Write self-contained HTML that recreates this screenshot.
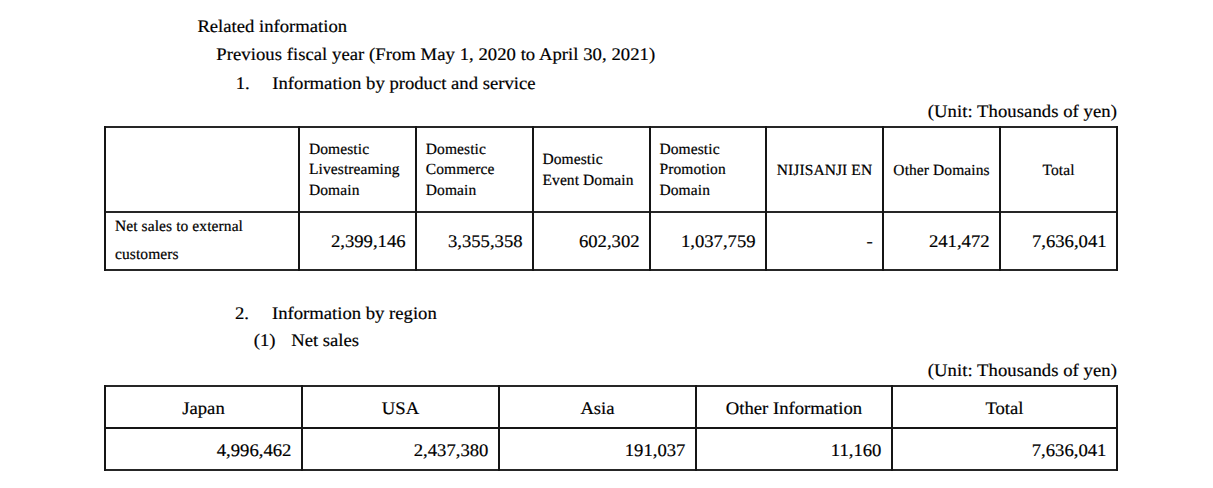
<!DOCTYPE html>
<html><head><meta charset="utf-8"><title>Related information</title>
<style>
html,body{margin:0;padding:0;background:#fff;}
body{width:1213px;height:488px;position:relative;overflow:hidden;font-family:"Liberation Serif",serif;color:#000;}
.t{position:absolute;white-space:nowrap;line-height:1;-webkit-text-stroke:0.2px #000;text-rendering:geometricPrecision;}
.r{text-align:right;}
.c{text-align:center;}
.l{position:absolute;background:#151515;}
.l.h{background:#262626;}
</style></head><body>
<div class="t" style="left:197.40px;top:17.96px;font-size:18.67px;transform-origin:0 15.64px;transform:scaleY(0.950);">Related information</div>
<div class="t" style="left:216.30px;top:46.01px;font-size:18.67px;transform-origin:0 15.64px;transform:scaleY(0.950);letter-spacing:0.045px;">Previous fiscal year (From May 1, 2020 to April 30, 2021)</div>
<div class="t" style="left:235.70px;top:74.86px;font-size:18.67px;transform-origin:0 15.64px;transform:scaleY(0.950);">1.</div>
<div class="t" style="left:272.30px;top:74.86px;font-size:18.67px;transform-origin:0 15.64px;transform:scaleY(0.950);">Information by product and service</div>
<div class="t r" style="left:717.00px;width:400.00px;top:102.86px;font-size:18.67px;transform-origin:0 15.64px;transform:scaleY(0.950);letter-spacing:0.060px;">(Unit: Thousands of yen)</div>
<div class="l h" style="left:104px;top:126px;width:1014px;height:2px"></div>
<div class="l h" style="left:104px;top:211px;width:1014px;height:2px"></div>
<div class="l h" style="left:104px;top:269px;width:1014px;height:2px"></div>
<div class="l" style="left:104px;top:126px;width:2px;height:145px"></div>
<div class="l" style="left:298px;top:126px;width:2px;height:145px"></div>
<div class="l" style="left:415px;top:126px;width:2px;height:145px"></div>
<div class="l" style="left:532px;top:126px;width:2px;height:145px"></div>
<div class="l" style="left:649px;top:126px;width:2px;height:145px"></div>
<div class="l" style="left:765px;top:126px;width:2px;height:145px"></div>
<div class="l" style="left:882px;top:126px;width:2px;height:145px"></div>
<div class="l" style="left:999px;top:126px;width:2px;height:145px"></div>
<div class="l" style="left:1116px;top:126px;width:2px;height:145px"></div>
<div class="t" style="left:309.00px;top:141.62px;font-size:15.50px;transform-origin:0 12.98px;transform:scaleY(1.000);letter-spacing:0.090px;">Domestic</div>
<div class="t" style="left:309.00px;top:162.22px;font-size:15.50px;transform-origin:0 12.98px;transform:scaleY(1.000);letter-spacing:0.090px;">Livestreaming</div>
<div class="t" style="left:309.00px;top:182.92px;font-size:15.50px;transform-origin:0 12.98px;transform:scaleY(1.000);letter-spacing:0.090px;">Domain</div>
<div class="t" style="left:425.80px;top:141.62px;font-size:15.50px;transform-origin:0 12.98px;transform:scaleY(1.000);letter-spacing:0.090px;">Domestic</div>
<div class="t" style="left:425.80px;top:162.22px;font-size:15.50px;transform-origin:0 12.98px;transform:scaleY(1.000);letter-spacing:0.090px;">Commerce</div>
<div class="t" style="left:425.80px;top:182.92px;font-size:15.50px;transform-origin:0 12.98px;transform:scaleY(1.000);letter-spacing:0.090px;">Domain</div>
<div class="t" style="left:542.50px;top:151.72px;font-size:15.50px;transform-origin:0 12.98px;transform:scaleY(1.000);letter-spacing:0.090px;">Domestic</div>
<div class="t" style="left:542.50px;top:172.52px;font-size:15.50px;transform-origin:0 12.98px;transform:scaleY(1.000);letter-spacing:0.090px;">Event Domain</div>
<div class="t" style="left:659.50px;top:141.62px;font-size:15.50px;transform-origin:0 12.98px;transform:scaleY(1.000);letter-spacing:0.090px;">Domestic</div>
<div class="t" style="left:659.50px;top:162.22px;font-size:15.50px;transform-origin:0 12.98px;transform:scaleY(1.000);letter-spacing:0.090px;">Promotion</div>
<div class="t" style="left:659.50px;top:182.92px;font-size:15.50px;transform-origin:0 12.98px;transform:scaleY(1.000);letter-spacing:0.090px;">Domain</div>
<div class="t c" style="left:624.50px;width:400.00px;top:162.72px;font-size:15.50px;transform-origin:0 12.98px;transform:scaleY(1.000);letter-spacing:0.090px;">NIJISANJI EN</div>
<div class="t c" style="left:741.50px;width:400.00px;top:162.72px;font-size:15.50px;transform-origin:0 12.98px;transform:scaleY(1.000);letter-spacing:0.090px;">Other Domains</div>
<div class="t c" style="left:858.50px;width:400.00px;top:162.72px;font-size:15.50px;transform-origin:0 12.98px;transform:scaleY(1.000);letter-spacing:0.090px;">Total</div>
<div class="t" style="left:115.00px;top:219.42px;font-size:15.50px;transform-origin:0 12.98px;transform:scaleY(1.000);letter-spacing:0.090px;">Net sales to external</div>
<div class="t" style="left:115.00px;top:247.12px;font-size:15.50px;transform-origin:0 12.98px;transform:scaleY(1.000);letter-spacing:0.090px;">customers</div>
<div class="t r" style="left:5.60px;width:400.00px;top:233.06px;font-size:18.67px;transform-origin:0 15.64px;transform:scaleY(0.950);">2,399,146</div>
<div class="t r" style="left:122.60px;width:400.00px;top:233.06px;font-size:18.67px;transform-origin:0 15.64px;transform:scaleY(0.950);">3,355,358</div>
<div class="t r" style="left:239.60px;width:400.00px;top:233.06px;font-size:18.67px;transform-origin:0 15.64px;transform:scaleY(0.950);">602,302</div>
<div class="t r" style="left:355.60px;width:400.00px;top:233.06px;font-size:18.67px;transform-origin:0 15.64px;transform:scaleY(0.950);">1,037,759</div>
<div class="t r" style="left:472.60px;width:400.00px;top:233.06px;font-size:18.67px;transform-origin:0 15.64px;transform:scaleY(0.950);">-</div>
<div class="t r" style="left:589.60px;width:400.00px;top:233.06px;font-size:18.67px;transform-origin:0 15.64px;transform:scaleY(0.950);">241,472</div>
<div class="t r" style="left:706.60px;width:400.00px;top:233.06px;font-size:18.67px;transform-origin:0 15.64px;transform:scaleY(0.950);">7,636,041</div>
<div class="t" style="left:234.90px;top:304.86px;font-size:18.67px;transform-origin:0 15.64px;transform:scaleY(0.950);">2.</div>
<div class="t" style="left:272.00px;top:304.86px;font-size:18.67px;transform-origin:0 15.64px;transform:scaleY(0.950);">Information by region</div>
<div class="t" style="left:253.80px;top:332.06px;font-size:18.67px;transform-origin:0 15.64px;transform:scaleY(0.950);">(1)</div>
<div class="t" style="left:291.20px;top:332.06px;font-size:18.67px;transform-origin:0 15.64px;transform:scaleY(0.950);">Net sales</div>
<div class="t r" style="left:717.00px;width:400.00px;top:362.06px;font-size:18.67px;transform-origin:0 15.64px;transform:scaleY(0.950);letter-spacing:0.060px;">(Unit: Thousands of yen)</div>
<div class="l h" style="left:104px;top:385px;width:1014px;height:2px"></div>
<div class="l" style="left:104px;top:427px;width:1014px;height:2px"></div>
<div class="l h" style="left:104px;top:469px;width:1014px;height:2px"></div>
<div class="l" style="left:104px;top:385px;width:2px;height:86px"></div>
<div class="l" style="left:301px;top:385px;width:2px;height:86px"></div>
<div class="l" style="left:498px;top:385px;width:2px;height:86px"></div>
<div class="l" style="left:695px;top:385px;width:2px;height:86px"></div>
<div class="l" style="left:891px;top:385px;width:2px;height:86px"></div>
<div class="l" style="left:1116px;top:385px;width:2px;height:86px"></div>
<div class="t c" style="left:3.50px;width:400.00px;top:399.76px;font-size:18.67px;transform-origin:0 15.64px;transform:scaleY(0.950);">Japan</div>
<div class="t r" style="left:-108.60px;width:400.00px;top:441.66px;font-size:18.67px;transform-origin:0 15.64px;transform:scaleY(0.950);">4,996,462</div>
<div class="t c" style="left:200.50px;width:400.00px;top:399.76px;font-size:18.67px;transform-origin:0 15.64px;transform:scaleY(0.950);">USA</div>
<div class="t r" style="left:88.40px;width:400.00px;top:441.66px;font-size:18.67px;transform-origin:0 15.64px;transform:scaleY(0.950);">2,437,380</div>
<div class="t c" style="left:397.50px;width:400.00px;top:399.76px;font-size:18.67px;transform-origin:0 15.64px;transform:scaleY(0.950);">Asia</div>
<div class="t r" style="left:285.40px;width:400.00px;top:441.66px;font-size:18.67px;transform-origin:0 15.64px;transform:scaleY(0.950);">191,037</div>
<div class="t c" style="left:594.00px;width:400.00px;top:399.76px;font-size:18.67px;transform-origin:0 15.64px;transform:scaleY(0.950);">Other Information</div>
<div class="t r" style="left:481.40px;width:400.00px;top:441.66px;font-size:18.67px;transform-origin:0 15.64px;transform:scaleY(0.950);">11,160</div>
<div class="t c" style="left:804.50px;width:400.00px;top:399.76px;font-size:18.67px;transform-origin:0 15.64px;transform:scaleY(0.950);">Total</div>
<div class="t r" style="left:706.40px;width:400.00px;top:441.66px;font-size:18.67px;transform-origin:0 15.64px;transform:scaleY(0.950);">7,636,041</div>
</body></html>
